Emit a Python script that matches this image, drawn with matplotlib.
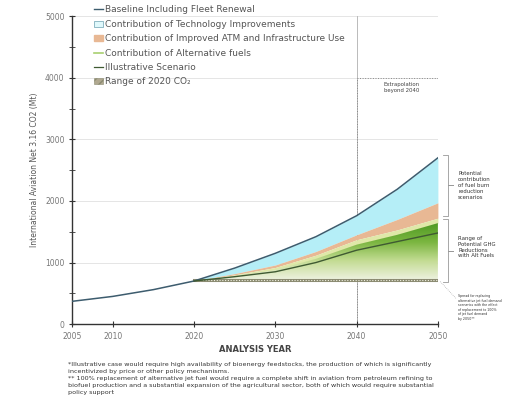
import numpy as np
import matplotlib.pyplot as plt
from matplotlib.patches import Patch, Rectangle
from matplotlib.lines import Line2D
from matplotlib.colors import LinearSegmentedColormap

# values (Mt CO2)
years = [2005, 2010, 2015, 2020, 2025, 2030, 2035, 2040, 2045, 2050]
baseline = [370, 450, 560, 700, 910, 1150, 1420, 1760, 2190, 2700]

yrs_fut = [2020, 2025, 2030, 2035, 2040, 2045, 2050]
tech = [700, 820, 960, 1180, 1450, 1700, 1970]
atm = [700, 800, 920, 1120, 1370, 1530, 1720]
alt_top = [700, 780, 880, 1060, 1290, 1450, 1640]
illustrative = [700, 770, 850, 1000, 1200, 1340, 1480]
co2_2020 = 720

x_ticks = [2005, 2010, 2020, 2030, 2040, 2050]
y_ticks = [0, 1000, 2000, 3000, 4000, 5000]

fig = plt.figure(figsize=(5.08, 4.15), dpi=100)
ax = fig.add_axes([0.142, 0.219, 0.72, 0.742])

ax.set_xlim(2005, 2050)
ax.set_ylim(0, 5000)

# grid
for yv in y_ticks[1:]:
    ax.axhline(yv, color='#e0e0e0', lw=0.6, zorder=0)
ax.axvline(2040, color='#b0b0b0', lw=0.6, zorder=0)

# extrapolation box
ax.add_patch(Rectangle((2040, 0), 10, 4000, fill=False, ls=':', lw=0.7,
                       ec='#888888', zorder=1))
ax.text(2045.5, 3930, 'Extrapolation\nbeyond 2040', ha='center', va='top',
        fontsize=3.9, color='#444444')

# fills
bl_fut = baseline[3:]
ax.fill_between(yrs_fut, tech, bl_fut, color='#b5eef7', lw=0, zorder=2)
ax.fill_between(yrs_fut, atm, tech, color='#e8b894', lw=0, zorder=2)
ax.fill_between(yrs_fut, alt_top, atm, color='#dfe8a8', lw=0, zorder=2)
poly = ax.fill_between(yrs_fut, co2_2020, alt_top, color='none', lw=0, zorder=2)

# green gradient clipped to the alt fuels area
grad = np.linspace(0, 1, 256).reshape(-1, 1)
cmap = LinearSegmentedColormap.from_list('g', ['#eef2e0', '#c4dc94', '#7bb640', '#4f9a24'])
im = ax.imshow(grad, cmap=cmap, aspect='auto', origin='lower',
               extent=[2020, 2050, co2_2020, max(alt_top)], zorder=2)
im.set_clip_path(poly.get_paths()[0], transform=ax.transData)

# lines
ax.plot(years, baseline, color='#3d5c6e', lw=1.1, zorder=4)
ax.plot(yrs_fut, illustrative, color='#3f5a32', lw=1.0, zorder=4)
ax.plot([2020, 2050], [co2_2020, co2_2020], color='#8a8a70', lw=2.2, zorder=3)
ax.plot([2020, 2050], [co2_2020, co2_2020], color='#f0f0e0', lw=0.8, ls=(0, (1, 1.5)), zorder=3)

# axes styling
for s in ['top', 'right']:
    ax.spines[s].set_visible(False)
for s in ['left', 'bottom']:
    ax.spines[s].set_color('#333333')
    ax.spines[s].set_linewidth(1.0)
ax.set_xticks(x_ticks)
ax.set_yticks(y_ticks)
ax.set_yticks(range(500, 5000, 1000), minor=True)
ax.tick_params(axis='both', which='both', direction='inout', length=4,
               labelsize=5.5, labelcolor='#777777', color='#333333')
ax.set_ylabel('International Aviation Net 3.16 CO2 (Mt)', fontsize=5.5, color='#555555')
ax.set_xlabel('ANALYSIS YEAR', fontsize=6, fontweight='bold', color='#444444', labelpad=3)

# brackets on the right
def bracket(y0, y1):
    ym = (y0 + y1) / 2
    ax.plot([2050.6, 2051.3, 2051.3, 2051.8, 2051.3, 2051.3, 2050.6],
            [y1, y1, ym, ym, ym, y0, y0], color='#999999', lw=0.6, clip_on=False)

bracket(1760, 2750)
bracket(680, 1700)
ax.text(2052.5, 2250, 'Potential\ncontribution\nof fuel burn\nreduction\nscenarios',
        fontsize=3.9, va='center', color='#333333')
ax.text(2052.5, 1250, 'Range of\nPotential GHG\nReductions\nwith Alt Fuels',
        fontsize=3.9, va='center', color='#333333')
ax.plot([2050.3, 2052.2], [690, 420], color='#999999', lw=0.5, ls=':', clip_on=False)
ax.text(2052.5, 270, 'Spread for replacing\nalternative jet fuel demand\nscenarios with the effect\nof replacement to 100%\nof jet fuel demand\nby 2050**',
        fontsize=2.3, va='center', color='#333333')

# legend
handles = [
    Line2D([], [], color='#3d5c6e', lw=1.0),
    Patch(fc='#dff8fb', ec='#6aa0b0', lw=0.5),
    Patch(fc='#e8b894', ec='#e8b894'),
    Line2D([], [], color='#a8d070', lw=1.2),
    Line2D([], [], color='#3f5a32', lw=0.9),
    Patch(fc='#b0a890', ec='#8a8a70', hatch='////', lw=0.4),
]
labels = ['Baseline Including Fleet Renewal',
          'Contribution of Technology Improvements',
          'Contribution of Improved ATM and Infrastructure Use',
          'Contribution of Alternative fuels',
          'Illustrative Scenario',
          'Range of 2020 CO\u2082']
fig.legend(handles, labels, loc='upper left', bbox_to_anchor=(0.175, 1.0),
           frameon=False, fontsize=6.5, handlelength=1.0, handletextpad=0.15,
           labelspacing=0.6, labelcolor='#555555', borderaxespad=0.2)

# footnotes
notes = ('*Illustrative case would require high availability of bioenergy feedstocks, the production of which is significantly\n'
         'incentivized by price or other policy mechanisms.\n'
         '** 100% replacement of alternative jet fuel would require a complete shift in aviation from petroleum refining to\n'
         'biofuel production and a substantial expansion of the agricultural sector, both of which would require substantial\n'
         'policy support')
fig.text(0.134, 0.127, notes, fontsize=4.6, va='top', ha='left', color='#333333', linespacing=1.5)

fig.savefig('out.png', dpi=100)
